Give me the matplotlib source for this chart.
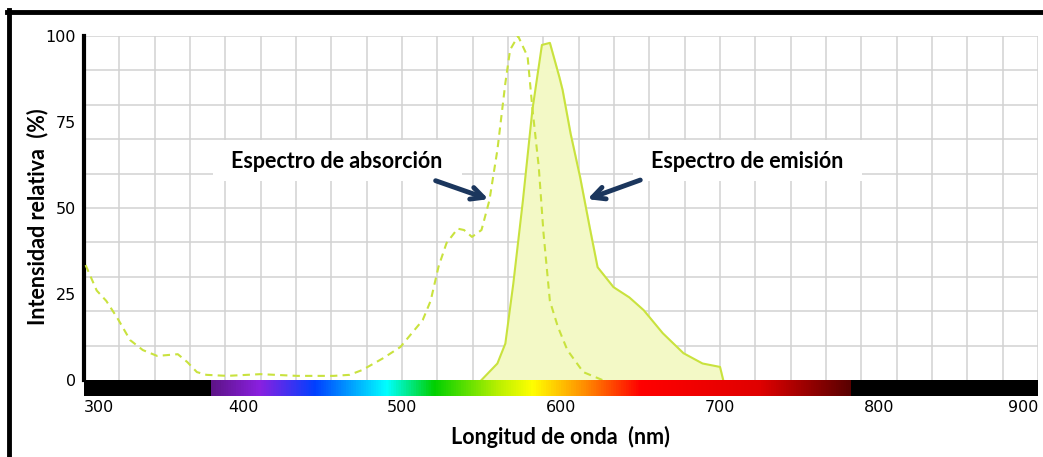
import numpy as np
import matplotlib
matplotlib.use("Agg")
import matplotlib.pyplot as plt
from matplotlib.colors import LinearSegmentedColormap
from matplotlib.patches import Rectangle
from matplotlib.lines import Line2D

# absorption spectrum (dashed)
abs_nm = [301, 308, 314, 321, 329, 337, 346, 359, 365, 371, 377, 390, 411, 434, 457,
          467, 475, 488, 499, 513, 518, 523, 528, 535, 539, 544, 550, 555, 560, 565,
          568, 573, 579, 582, 586, 589, 593, 598, 604, 614, 626]
abs_val = [33.4, 26, 23, 18, 11.6, 8.7, 7, 7.5, 5.2, 2.3, 1.5, 1.2, 1.7, 1.2, 1.2,
           1.5, 2.9, 6.3, 9.6, 17.4, 23, 33, 39.8, 44, 43.6, 41.6, 43.6, 52.3, 66.9, 86.3,
           96, 100, 94, 79, 62, 42.7, 23, 15.5, 8.7, 2.3, 0]

# emission spectrum (solid, filled)
em_nm = [550, 560, 565, 570, 576, 582, 588, 593, 596, 599, 601, 606, 612, 618, 623,
         633, 643, 652, 664, 677, 689, 700, 702]
em_val = [0, 4.8, 10.6, 28, 52, 78.5, 97.4, 98, 93, 88, 84.3, 71.7, 59, 44.5, 32.8,
          27, 24, 20.3, 13.6, 7.8, 4.8, 3.8, 0]

x_ticks = [300, 400, 500, 600, 700, 800, 900]
y_ticks = [0, 25, 50, 75, 100]

# visible spectrum colours for the bar under the axis
rainbow_nm = [380, 410, 445, 490, 520, 560, 582, 615, 650, 725, 782]
rainbow_col = ["#5e1488", "#8a20e0", "#0040ff", "#00ffff", "#00d000", "#b8f000",
               "#ffff00", "#ff8c00", "#ff0000", "#e00000", "#5a0000"]

line_col = "#c9e23e"
fill_col = "#f3f9c6"
arrow_col = "#1b365d"
label_font = ["Lato", "DejaVu Sans"]

fig = plt.figure(figsize=(10.43, 4.57), dpi=100)
W, H = 1043.0, 457.0
ax = fig.add_axes([84 / W, 1 - 380 / H, 954 / W, 344 / H])
bar_ax = fig.add_axes([84 / W, 1 - 396 / H, 954 / W, 16 / H], sharex=ax)

# grid
for gx in np.linspace(300, 900, 28):
    ax.axvline(gx, color="#d2d2d2", lw=1.1, zorder=0)
for gy in range(10, 101, 10):
    ax.axhline(gy, color="#d2d2d2", lw=1.1, zorder=0)

ax.fill_between(em_nm, em_val, 0, color=fill_col, zorder=1)
ax.plot(em_nm, em_val, color=line_col, lw=1.5, zorder=3)
ax.plot(abs_nm, abs_val, color=line_col, lw=1.5, ls=(0, (3.5, 2.5)), zorder=3)

ax.set_xlim(300, 900)
ax.set_ylim(0, 100)
ax.set_yticks(y_ticks)
ax.tick_params(axis="y", length=0, labelsize=11.5, pad=6)
ax.tick_params(axis="x", length=0, labelbottom=False)
for s in ["top", "right", "bottom"]:
    ax.spines[s].set_visible(False)
ax.spines["left"].set_linewidth(3)
ax.spines["left"].set_color("black")

# label boxes hiding the grid
ax.add_patch(Rectangle((381, 57.8), 156.7, 12, facecolor="white", edgecolor="none", zorder=2))
ax.add_patch(Rectangle((645, 57.8), 144, 12, facecolor="white", edgecolor="none", zorder=2))
ax.text(459, 63.6, "Espectro de absorción", ha="center", va="center",
        fontsize=15.5, family=label_font, fontweight="bold", color="black", zorder=4)
ax.text(717, 63.6, "Espectro de emisión", ha="center", va="center",
        fontsize=15.5, family=label_font, fontweight="bold", color="black", zorder=4)
ax.annotate("", xy=(556, 52.3), xytext=(519.5, 58.2),
            arrowprops=dict(arrowstyle="->", color=arrow_col, lw=3.5, mutation_scale=22), zorder=4)
ax.annotate("", xy=(615, 52.3), xytext=(651.5, 58.4),
            arrowprops=dict(arrowstyle="->", color=arrow_col, lw=3.5, mutation_scale=22), zorder=4)

# spectrum bar
cmap = LinearSegmentedColormap.from_list(
    "vis", list(zip([(n - 380) / 402 for n in rainbow_nm], rainbow_col)))
grad = np.linspace(0, 1, 512)[None, :]
bar_ax.set_facecolor("black")
bar_ax.imshow(grad, aspect="auto", cmap=cmap, extent=(380, 782, 0, 1))
bar_ax.set_xlim(300, 900)
bar_ax.set_ylim(0, 1)
bar_ax.set_yticks([])
bar_ax.set_xticks(x_ticks)
bar_ax.tick_params(axis="x", length=0, labelsize=11.5, pad=3)
tl = bar_ax.get_xticklabels()
tl[0].set_ha("left")
tl[-1].set_ha("right")
for s in bar_ax.spines.values():
    s.set_visible(False)

fig.text(560 / W, 1 - 437 / H, "Longitud de onda  (nm)", ha="center", va="center",
         fontsize=15.5, family=label_font, fontweight="bold", color="black")
fig.text(38 / W, 1 - 217 / H, "Intensidad relativa  (%)", ha="center", va="center",
         rotation=90, fontsize=15.5, family=label_font, fontweight="bold", color="black")

# outer frame (top and left edges)
fig.add_artist(Line2D([7 / W, 1], [1 - 11.5 / H, 1 - 11.5 / H], color="black", lw=3.5,
                      transform=fig.transFigure))
fig.add_artist(Line2D([9 / W, 9 / W], [0, 1 - 10 / H], color="black", lw=3.5,
                      transform=fig.transFigure))

fig.savefig("out.png", dpi=100)
